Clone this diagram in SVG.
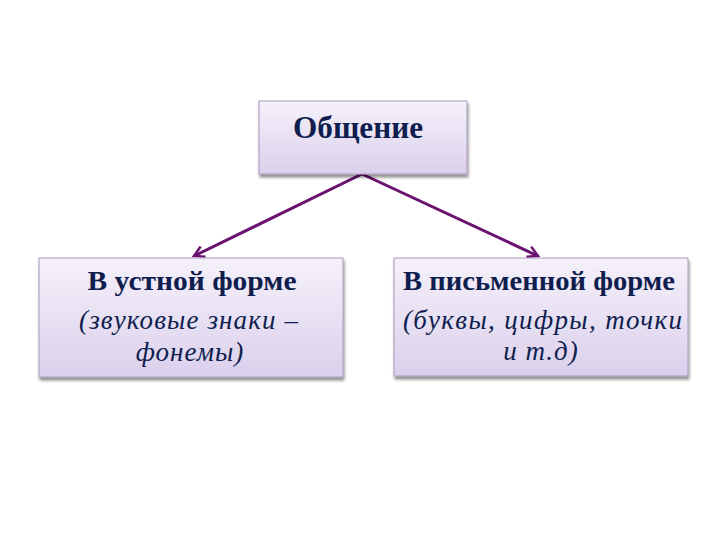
<svg xmlns="http://www.w3.org/2000/svg" width="720" height="540" viewBox="0 0 720 540">
<defs>
<linearGradient id="g" x1="0" y1="0" x2="0" y2="1">
<stop offset="0" stop-color="#f5f1fa"/>
<stop offset="1" stop-color="#dbd0ec"/>
</linearGradient>
<filter id="sh" x="-10%" y="-10%" width="120%" height="130%">
<feGaussianBlur in="SourceAlpha" stdDeviation="1.5"/>
<feOffset dx="1" dy="3"/>
<feComponentTransfer><feFuncA type="linear" slope="0.45"/></feComponentTransfer>
<feMerge><feMergeNode/><feMergeNode in="SourceGraphic"/></feMerge>
</filter>
<marker id="ah" viewBox="0 0 12 12" refX="10" refY="6" markerWidth="4.5" markerHeight="4.5" orient="auto" markerUnits="strokeWidth">
<path d="M1,1 L10,6 L1,11" fill="none" stroke="#6b1170" stroke-width="2.2"/>
</marker>
</defs>
<style>
.box{fill:url(#g);stroke:#a99bbb;stroke-width:1;filter:url(#sh)}
.t{font-family:"Liberation Serif","Times New Roman",serif;fill:#0f1e4e;text-anchor:middle}
.b{font-weight:bold;font-size:27px}
.i{font-style:italic;font-size:27px;letter-spacing:1px}
.c{stroke:#6b1170;stroke-width:3;fill:none;marker-end:url(#ah)}
</style>
<rect width="720" height="540" fill="#ffffff"/>
<g id="connectors">
<line class="c" x1="362" y1="174" x2="194" y2="256"/>
<line class="c" x1="362" y1="174" x2="538" y2="256"/>
</g>
<g id="n-obshchenie">
<rect class="box" x="259" y="101" width="208" height="73"/>
<text class="t b" x="358" y="138" style="font-size:31px" textLength="130" lengthAdjust="spacingAndGlyphs">Общение</text>
</g>
<g id="n-ustnaya">
<rect class="box" x="39" y="258" width="304" height="119"/>
<text class="t b" x="192" y="290" textLength="209" lengthAdjust="spacingAndGlyphs">В устной форме</text>
<text class="t i" x="189" y="329" textLength="220" lengthAdjust="spacing">(звуковые знаки –</text>
<text class="t i" x="190" y="361">фонемы)</text>
</g>
<g id="n-pismennaya">
<rect class="box" x="394" y="258" width="294" height="118"/>
<text class="t b" x="539" y="290" textLength="272" lengthAdjust="spacingAndGlyphs">В письменной форме</text>
<text class="t i" x="543" y="329" textLength="280" lengthAdjust="spacing">(буквы, цифры, точки</text>
<text class="t i" x="541" y="360">и т.д)</text>
</g>
</svg>
